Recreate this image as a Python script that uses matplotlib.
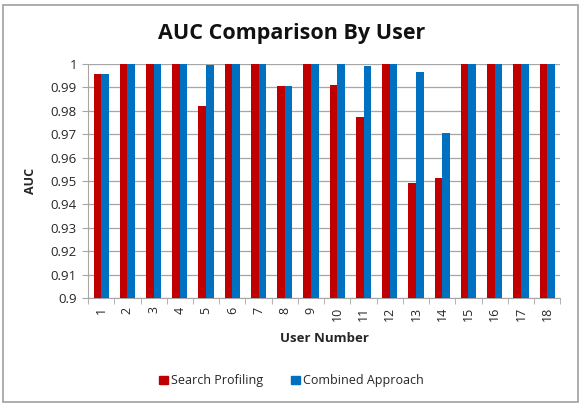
import matplotlib
matplotlib.use("Agg")
import matplotlib.pyplot as plt
import numpy as np
from matplotlib.patches import Rectangle, Patch

users = [str(i) for i in range(1, 19)]
search_profiling = [0.9955, 1.0, 1.0, 1.0, 0.982, 1.0, 1.0, 0.9906, 1.0, 0.991,
                    0.9775, 1.0, 0.9493, 0.9513, 1.0, 1.0, 1.0, 1.0]
combined = [0.9955, 1.0, 1.0, 1.0, 0.9993, 1.0, 1.0, 0.9906, 1.0, 1.0,
            0.9991, 1.0, 0.9967, 0.9706, 1.0, 1.0, 1.0, 1.0]
yticks = [0.9, 0.91, 0.92, 0.93, 0.94, 0.95, 0.96, 0.97, 0.98, 0.99, 1.0]
ytick_labels = ["0.9", "0.91", "0.92", "0.93", "0.94", "0.95", "0.96", "0.97", "0.98", "0.99", "1"]

plt.rcParams['font.family'] = ['Open Sans', 'DejaVu Sans']
red = "#C00000"
blue = "#0070C0"
txt = "#262626"

fig = plt.figure(figsize=(5.83, 4.04), dpi=100)
ax = fig.add_axes([0.151, 0.262, 0.810, 0.580])

x = np.arange(len(users))
w = 0.29
ax.bar(x - w / 2, np.array(search_profiling) - 0.9, w, bottom=0.9, color=red, zorder=3, label="Search Profiling")
ax.bar(x + w / 2, np.array(combined) - 0.9, w, bottom=0.9, color=blue, zorder=3, label="Combined Approach")

ax.set_ylim(0.9, 1.0)
ax.set_xlim(-0.5, len(users) - 0.5)
ax.set_yticks(yticks)
ax.set_yticklabels(ytick_labels, fontsize=9.5, color=txt)
ax.yaxis.grid(True, color="#A6A6A6", linewidth=0.9, zorder=0)
ax.tick_params(axis='y', length=4, color="#A6A6A6", pad=4)

ax.set_xticks(x)
ax.set_xticklabels(users, rotation=90, fontsize=9, color=txt)
ax.tick_params(axis='x', length=0, pad=6)
ax.set_xticks(np.arange(-0.5, len(users), 1.0), minor=True)
ax.tick_params(axis='x', which='minor', length=4, color="#A6A6A6")

for s in ['top', 'right']:
    ax.spines[s].set_visible(False)
ax.spines['left'].set_color("#A6A6A6")
ax.spines['bottom'].set_color("#A6A6A6")

ax.set_ylabel("AUC", fontsize=9, fontweight='bold', labelpad=10, color=txt)
ax.set_xlabel("User Number", fontsize=9.5, fontweight='bold', labelpad=8, color=txt)

fig.text(0.5, 0.918, "AUC Comparison By User", ha='center', va='center', fontsize=15.5, fontweight='bold', color="#111111")

handles = [Patch(color=red), Patch(color=blue)]
fig.legend(handles, ["Search Profiling", "Combined Approach"], loc='center', bbox_to_anchor=(0.5, 0.057),
           ncol=2, frameon=False, fontsize=9, handlelength=0.7, handleheight=0.7,
           handletextpad=0.3, columnspacing=2.2, labelcolor=txt)

border = Rectangle((0.005, 0.005), 0.987, 0.982, transform=fig.transFigure, fill=False,
                   edgecolor="#A0A0A0", linewidth=1.2)
fig.patches.append(border)

fig.savefig("out.png", dpi=100)
